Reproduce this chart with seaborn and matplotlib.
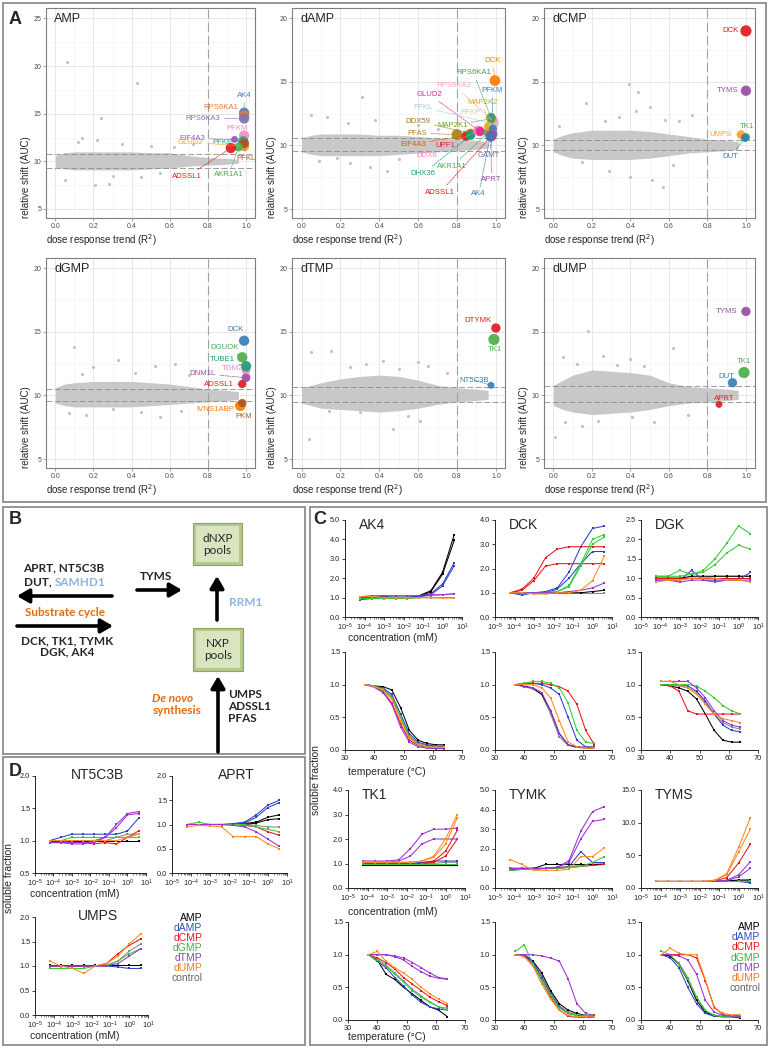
import numpy as np
import pandas as pd
import matplotlib
matplotlib.use("Agg")
import matplotlib.pyplot as plt
from matplotlib.patches import Rectangle
from matplotlib.ticker import LogLocator, LogFormatterMathtext, FormatStrFormatter, NullFormatter
import seaborn as sns

# ---------------- panel A: dose response screen (R2 vs AUC) ----------------
R2_TICKS = [0.0, 0.2, 0.4, 0.6, 0.8, 1.0]
R2_CLOUD = [0.0, 0.05, 0.1, 0.2, 0.3, 0.4, 0.5, 0.6, 0.7, 0.8, 0.9, 0.96]

AMP_CLOUD_HI = [10.6, 10.9, 11.0, 11.0, 11.0, 11.0, 10.9, 10.9, 10.6, 10.4, 10.3, 10.2]
AMP_CLOUD_LO = [9.4, 9.2, 9.1, 9.1, 9.1, 9.1, 9.2, 9.3, 9.5, 9.6, 9.7, 9.8]
AMP_OUT_R2 = [0.06, 0.43, 0.24, 0.14, 0.22, 0.12, 0.35, 0.5, 0.62, 0.28, 0.21, 0.05, 0.3, 0.55, 0.72, 0.45]
AMP_OUT_AUC = [20.4, 18.2, 14.5, 12.5, 12.2, 12.0, 11.8, 11.6, 11.5, 7.6, 7.5, 8.0, 8.5, 8.8, 11.8, 8.4]
AMP_GENES = ["AK4", "RPS6KA1", "RPS6KA3", "PFKM", "EIF4A3", "GLUD2", "PFKP", "PFKL", "AKR1A1", "ADSSL1"]
AMP_R2 = [0.99, 0.99, 0.99, 0.99, 0.94, 0.99, 0.985, 0.99, 0.96, 0.92]
AMP_AUC = [15.1, 14.8, 14.5, 12.7, 12.3, 11.6, 12.1, 11.9, 11.5, 11.4]
AMP_CUTOFFS = [10.8, 9.35]

DAMP_CLOUD_HI = [10.6, 10.8, 10.9, 10.9, 10.9, 10.8, 10.8, 10.7, 10.6, 10.5, 10.4, 10.3]
DAMP_CLOUD_LO = [9.5, 9.3, 9.2, 9.2, 9.2, 9.2, 9.3, 9.4, 9.5, 9.6, 9.7, 9.8]
DAMP_OUT_R2 = [0.31, 0.05, 0.13, 0.38, 0.24, 0.6, 0.44, 0.25, 0.35, 0.09, 0.18, 0.5, 0.7]
DAMP_OUT_AUC = [13.8, 12.4, 12.2, 12.0, 11.8, 11.6, 8.0, 8.6, 8.3, 8.8, 9.0, 8.9, 11.3]
DAMP_GENES = ["PFAS", "EIF4A3", "UPF1", "DDX59", "DHX36", "DDX6", "GLUD2", "AKR1A1", "MAP2K2",
              "PFKL", "PFKP", "RPS6KA3", "PFKM", "GAMT", "MAP2K1", "RPS6KA1", "ADSSL1", "APRT", "AK4", "DCK"]
DAMP_R2 = [0.80, 0.85, 0.845, 0.87, 0.87, 0.91, 0.92, 0.96, 0.965,
           0.99, 0.985, 0.99, 0.985, 0.985, 0.975, 0.975, 0.975, 0.975, 0.97, 0.995]
DAMP_AUC = [10.85, 10.8, 10.7, 10.95, 10.8, 11.15, 11.1, 11.0, 11.5,
            11.7, 12.0, 11.9, 11.3, 10.9, 12.1, 12.2, 10.7, 10.75, 10.65, 15.1]
DAMP_CUTOFFS = [10.6, 9.6]

DCMP_CLOUD_HI = [10.5, 10.8, 11.0, 11.2, 11.2, 11.2, 11.1, 10.9, 10.7, 10.5, 10.4, 10.3]
DCMP_CLOUD_LO = [9.5, 9.2, 9.0, 8.9, 8.9, 8.9, 9.0, 9.2, 9.4, 9.5, 9.6, 9.7]
DCMP_OUT_R2 = [0.39, 0.44, 0.17, 0.5, 0.43, 0.34, 0.27, 0.72, 0.65, 0.58, 0.4, 0.51, 0.57, 0.29, 0.15, 0.62, 0.03]
DCMP_OUT_AUC = [14.8, 14.2, 13.3, 13.0, 12.7, 12.2, 11.9, 12.4, 11.9, 12.0, 7.5, 7.3, 6.7, 8.0, 8.7, 8.5, 11.5]
DCMP_GENES = ["UMPS", "TK1", "DUT", "TYMS", "DCK"]
DCMP_R2 = [0.975, 1.0, 0.995, 1.0, 1.0]
DCMP_AUC = [10.85, 10.65, 10.6, 14.3, 19.0]
DCMP_CUTOFFS = [10.45, 9.65]

DGMP_CLOUD_HI = [10.6, 10.9, 11.0, 11.1, 11.1, 11.1, 11.0, 10.9, 10.7, 10.5, 10.4, 10.3]
DGMP_CLOUD_LO = [9.4, 9.2, 9.1, 9.1, 9.1, 9.1, 9.2, 9.3, 9.4, 9.5, 9.6, 9.7]
DGMP_OUT_R2 = [0.1, 0.33, 0.52, 0.2, 0.63, 0.14, 0.42, 0.7, 0.07, 0.16, 0.3, 0.55, 0.66, 0.45]
DGMP_OUT_AUC = [13.8, 12.8, 12.3, 12.2, 12.5, 11.7, 11.8, 11.6, 8.6, 8.5, 8.9, 8.3, 8.8, 8.7]
DGMP_GENES = ["IVNS1ABP", "PKM", "ADSSL1", "DNM1L", "TGM2", "TUBE1", "DGUOK", "DCK"]
DGMP_R2 = [0.97, 0.98, 0.98, 1.0, 1.0, 1.0, 0.98, 0.99]
DGMP_AUC = [9.2, 9.4, 10.9, 11.4, 12.0, 12.3, 13.0, 14.3]
DGMP_CUTOFFS = [10.5, 9.6]

DTMP_CLOUD_HI = [10.6, 10.8, 11.0, 11.3, 11.5, 11.6, 11.5, 11.2, 10.8, 10.6, 10.5, 10.4]
DTMP_CLOUD_LO = [9.4, 9.2, 9.0, 8.9, 8.8, 8.7, 8.8, 9.0, 9.3, 9.5, 9.6, 9.7]
DTMP_OUT_R2 = [0.05, 0.15, 0.42, 0.33, 0.6, 0.65, 0.25, 0.5, 0.47, 0.04, 0.3, 0.14, 0.61, 0.55, 0.75]
DTMP_OUT_AUC = [13.4, 13.5, 12.7, 12.5, 12.6, 12.3, 12.2, 12.1, 7.4, 6.6, 8.7, 8.8, 8.0, 8.4, 11.8]
DTMP_GENES = ["NT5C3B", "TK1", "DTYMK"]
DTMP_R2 = [0.975, 0.99, 1.0]
DTMP_AUC = [10.8, 14.4, 15.3]
DTMP_CUTOFFS = [10.65, 9.45]

DUMP_CLOUD_HI = [10.8, 11.2, 11.6, 12.0, 11.9, 11.8, 11.6, 11.0, 10.7, 10.6, 10.5, 10.4]
DUMP_CLOUD_LO = [9.2, 8.9, 8.7, 8.5, 8.6, 8.7, 8.9, 9.2, 9.4, 9.5, 9.6, 9.7]
DUMP_OUT_R2 = [0.18, 0.62, 0.26, 0.4, 0.05, 0.12, 0.33, 0.47, 0.01, 0.15, 0.06, 0.23, 0.52, 0.41, 0.7]
DUMP_OUT_AUC = [15.1, 13.7, 13.1, 12.9, 13.0, 12.5, 12.4, 12.3, 6.7, 7.6, 7.9, 8.0, 7.9, 8.3, 8.5]
DUMP_GENES = ["APRT", "DUT", "TK1", "TYMS"]
DUMP_R2 = [0.86, 0.93, 0.99, 1.0]
DUMP_AUC = [9.3, 11.0, 11.8, 16.6]
DUMP_CUTOFFS = [10.75, 9.45]

# gene styles: colour, marker size, label position (data coords)
AMP_STYLE = {
    "AK4": ("#4f7fb8", 55, 0.99, 16.9), "RPS6KA1": ("#e07b39", 55, 0.87, 15.7),
    "RPS6KA3": ("#7f73b5", 55, 0.775, 14.5), "PFKM": ("#f48cc4", 55, 0.955, 13.4),
    "EIF4A3": ("#9d55b0", 25, 0.72, 12.4), "GLUD2": ("#f5a020", 55, 0.71, 12.0),
    "PFKP": ("#2aa58c", 55, 0.875, 12.0), "PFKL": ("#a5552a", 50, 1.0, 10.3),
    "AKR1A1": ("#4daf4a", 40, 0.91, 8.6), "ADSSL1": ("#e41a1c", 55, 0.69, 8.4),
}
DAMP_STYLE = {
    "DCK": ("#ff7f00", 60, 0.985, 16.65), "RPS6KA1": ("#4d9e58", 45, 0.884, 15.7),
    "RPS6KA3": ("#f4a6b8", 45, 0.784, 14.7), "PFKM": ("#377eb8", 35, 0.98, 14.3),
    "GLUD2": ("#e7298a", 45, 0.658, 14.0), "MAP2K2": ("#e6ab02", 50, 0.933, 13.4),
    "PFKL": ("#a6cee3", 45, 0.626, 13.0), "PFKP": ("#b2df8a", 45, 0.87, 12.6),
    "DDX59": ("#a6761d", 45, 0.60, 11.9), "MAP2K1": ("#66a61e", 45, 0.775, 11.55),
    "PFAS": ("#a88412", 60, 0.596, 10.97), "EIF4A3": ("#d95f02", 45, 0.574, 10.1),
    "UPF1": ("#e41a1c", 40, 0.74, 9.97), "DDX6": ("#f781bf", 55, 0.644, 9.24),
    "AKR1A1": ("#4daf4a", 40, 0.775, 8.35), "DHX36": ("#1b9e77", 45, 0.626, 7.8),
    "ADSSL1": ("#e41a1c", 50, 0.714, 6.33), "GAMT": ("#7570b3", 45, 0.965, 9.2),
    "APRT": ("#984ea3", 60, 0.977, 7.3), "AK4": ("#377eb8", 40, 0.912, 6.2),
}
DCMP_STYLE = {
    "DCK": ("#e41a1c", 65, 0.92, 19.0), "TYMS": ("#984ea3", 55, 0.905, 14.3),
    "UMPS": ("#ff9f33", 40, 0.87, 10.9), "TK1": ("#4daf4a", 35, 1.005, 11.5),
    "DUT": ("#377eb8", 35, 0.92, 9.14),
}
DGMP_STYLE = {
    "DCK": ("#377eb8", 55, 0.944, 15.16), "DGUOK": ("#4daf4a", 55, 0.888, 13.8),
    "TUBE1": ("#1b9e77", 55, 0.878, 12.8), "TGM2": ("#f781bf", 40, 0.93, 12.1),
    "DNM1L": ("#984ea3", 40, 0.774, 11.7), "ADSSL1": ("#e41a1c", 35, 0.857, 10.84),
    "IVNS1ABP": ("#ff7f00", 60, 0.836, 8.93), "PKM": ("#a65628", 35, 0.988, 8.35),
}
DTMP_STYLE = {
    "DTYMK": ("#e41a1c", 45, 0.908, 15.86), "TK1": ("#4daf4a", 65, 0.995, 13.6),
    "NT5C3B": ("#377eb8", 25, 0.89, 11.2),
}
DUMP_STYLE = {
    "TYMS": ("#984ea3", 45, 0.9, 16.6), "TK1": ("#4daf4a", 65, 0.99, 12.7),
    "DUT": ("#377eb8", 45, 0.9, 11.5), "APRT": ("#e41a1c", 25, 0.887, 9.75),
}

# ---------------- panels C/D: ITDR and melting curves ----------------
CONC_MM = [6.1e-5, 2.44e-4, 9.77e-4, 3.91e-3, 1.56e-2, 6.25e-2, 0.25, 1.0, 4.0]
TEMP_C = [37, 40, 43, 46, 49, 52, 55, 58, 61, 64]
LIGANDS = ["control", "AMP", "dAMP", "dCMP", "dGMP", "dTMP", "dUMP"]

AK4_CONC = {
    "control": [[1.0, 1.0, 1.0, 1.05, 1.05, 1.05, 1.1, 1.15, 1.2]],
    "AMP": [[0.95, 1.0, 1.05, 1.0, 0.95, 1.1, 1.35, 2.3, 4.25], [1.0, 1.0, 1.0, 1.0, 1.0, 1.05, 1.3, 2.2, 3.95]],
    "dAMP": [[0.9, 1.0, 1.0, 1.0, 1.0, 1.05, 1.2, 1.7, 2.8], [0.9, 0.95, 1.0, 1.0, 1.0, 1.05, 1.15, 1.6, 2.65]],
    "dCMP": [[1.0, 1.0, 1.0, 1.0, 0.98, 1.0, 1.0, 1.0, 1.0]],
    "dGMP": [[0.95, 0.95, 0.95, 0.95, 0.95, 1.0, 1.0, 1.0, 1.0]],
    "dTMP": [[1.05, 1.1, 1.1, 1.1, 1.1, 1.1, 1.15, 1.15, 1.2]],
    "dUMP": [[1.05, 1.05, 1.0, 1.0, 1.0, 1.0, 1.0, 0.98, 0.98]],
}
DCK_CONC = {
    "control": [[1.0, 1.0, 1.0, 1.0, 1.0, 1.0, 1.0, 1.0, 1.0]],
    "AMP": [[1.0, 1.0, 1.0, 1.0, 1.0, 1.0, 1.0, 1.05, 1.1]],
    "dAMP": [[1.0, 1.0, 1.0, 1.05, 1.2, 1.85, 2.9, 3.65, 3.75], [1.0, 0.9, 1.0, 1.0, 1.15, 1.6, 2.2, 2.7, 2.7]],
    "dCMP": [[1.0, 1.15, 1.6, 2.45, 2.8, 2.9, 2.9, 2.9, 2.9], [1.0, 1.1, 1.5, 2.1, 2.2, 2.2, 2.2, 2.2, 2.2]],
    "dGMP": [[1.0, 1.0, 1.0, 1.0, 1.05, 1.3, 2.2, 3.2, 3.4], [1.0, 1.0, 1.0, 1.0, 1.05, 1.25, 2.1, 3.0, 3.3]],
    "dTMP": [[1.0, 1.0, 1.0, 1.0, 1.0, 1.05, 1.1, 1.2, 1.4]],
    "dUMP": [[1.0, 1.0, 0.95, 0.95, 1.0, 1.0, 1.1, 1.5, 2.5]],
}
DGK_CONC = {
    "control": [[1.0, 1.0, 1.0, 1.0, 1.0, 1.05, 1.05, 1.05, 1.05]],
    "AMP": [[1.0, 1.0, 1.0, 1.05, 1.05, 1.05, 1.05, 1.05, 1.05]],
    "dAMP": [[0.95, 0.95, 0.95, 1.2, 0.95, 0.95, 0.95, 0.95, 1.15]],
    "dCMP": [[1.0, 1.0, 1.0, 1.0, 1.0, 1.0, 1.0, 1.0, 1.0]],
    "dGMP": [[1.05, 1.05, 1.2, 1.1, 1.2, 1.5, 1.9, 2.35, 2.15], [1.05, 1.05, 1.05, 1.1, 1.15, 1.35, 1.65, 1.85, 1.75]],
    "dTMP": [[0.95, 0.95, 0.9, 0.95, 0.95, 0.9, 0.95, 0.95, 0.95]],
    "dUMP": [[0.9, 0.95, 0.95, 1.0, 1.0, 1.0, 0.95, 0.95, 0.9]],
}
TK1_CONC = {
    "control": [[1.0, 1.0, 1.0, 1.0, 1.0, 1.0, 1.0, 1.05, 1.05]],
    "AMP": [[0.95, 0.95, 0.95, 0.95, 0.95, 0.95, 0.95, 0.95, 0.95]],
    "dAMP": [[1.0, 1.0, 1.0, 1.0, 1.0, 1.05, 1.1, 1.1, 1.1]],
    "dCMP": [[1.0, 1.0, 1.0, 1.0, 1.0, 1.0, 1.1, 1.5, 2.35], [1.0, 1.0, 1.0, 1.0, 1.0, 1.0, 1.05, 1.3, 2.0]],
    "dGMP": [[1.0, 1.0, 1.0, 1.0, 1.0, 1.0, 1.0, 1.0, 1.0]],
    "dTMP": [[1.1, 1.1, 1.1, 1.15, 1.6, 2.2, 2.4, 2.4, 2.45], [1.05, 1.05, 1.05, 1.1, 1.3, 1.8, 2.0, 2.0, 2.0]],
    "dUMP": [[1.05, 1.05, 1.05, 1.05, 1.05, 1.1, 1.3, 2.0, 3.0], [1.05, 1.05, 1.05, 1.05, 1.05, 1.1, 1.25, 1.8, 2.85]],
}
TYMK_CONC = {
    "control": [[1.0, 1.0, 1.0, 1.0, 1.05, 1.1, 1.15, 1.2, 1.25]],
    "AMP": [[0.95, 1.0, 1.0, 1.2, 1.2, 1.2, 1.2, 1.2, 1.2]],
    "dAMP": [[0.9, 0.95, 0.95, 1.0, 1.0, 1.1, 1.85, 1.3, 1.3]],
    "dCMP": [[1.0, 1.0, 1.0, 1.0, 1.0, 1.05, 1.1, 1.15, 1.2]],
    "dGMP": [[0.9, 0.95, 0.95, 1.0, 1.0, 1.05, 1.1, 1.3, 1.6]],
    "dTMP": [[1.0, 1.0, 1.0, 1.0, 1.05, 1.4, 2.9, 3.9, 4.15], [1.0, 1.0, 1.0, 1.0, 1.05, 1.3, 2.5, 3.4, 3.5]],
    "dUMP": [[1.45, 1.2, 0.9, 0.9, 0.9, 0.95, 1.6, 1.6, 2.05]],
}
TYMS_CONC = {
    "control": [[1.0, 1.0, 1.0, 1.0, 1.0, 1.0, 1.1, 1.2, 1.3]],
    "AMP": [[1.0, 1.0, 1.0, 1.0, 1.0, 1.0, 1.1, 1.2, 1.2]],
    "dAMP": [[1.0, 1.0, 1.0, 1.0, 1.0, 1.0, 1.0, 1.0, 0.8]],
    "dCMP": [[1.0, 1.0, 1.0, 1.0, 1.0, 1.1, 1.6, 3.8, 6.7]],
    "dGMP": [[1.0, 1.0, 1.0, 1.0, 1.0, 1.0, 1.0, 1.0, 1.0]],
    "dTMP": [[1.0, 1.0, 1.0, 1.0, 1.0, 1.0, 1.2, 2.0, 4.0], [1.0, 1.0, 1.0, 1.0, 1.0, 1.0, 1.1, 1.7, 3.0]],
    "dUMP": [[1.0, 1.0, 1.0, 1.0, 1.0, 1.2, 2.2, 6.2, 10.7], [1.0, 1.0, 1.0, 1.0, 1.0, 1.2, 2.0, 5.5, 9.0]],
}

AK4_MELT = {
    "control": [[1.0, 0.98, 0.95, 0.82, 0.5, 0.22, 0.1, 0.07, 0.05, 0.05]],
    "AMP": [[1.0, 0.98, 0.97, 0.92, 0.65, 0.3, 0.15, 0.1, 0.08, 0.08]],
    "dAMP": [[1.0, 0.98, 0.95, 0.85, 0.55, 0.25, 0.12, 0.08, 0.06, 0.06]],
    "dCMP": [[1.0, 0.97, 0.9, 0.72, 0.4, 0.15, 0.07, 0.04, 0.03, 0.03]],
    "dGMP": [[1.0, 0.98, 0.93, 0.8, 0.5, 0.2, 0.08, 0.05, 0.04, 0.04]],
    "dTMP": [[1.0, 0.96, 0.88, 0.7, 0.35, 0.12, 0.05, 0.03, 0.02, 0.02]],
    "dUMP": [[1.0, 0.97, 0.92, 0.78, 0.45, 0.18, 0.08, 0.05, 0.04, 0.04]],
}
DCK_MELT = {
    "control": [[1.0, 0.97, 0.93, 0.85, 0.55, 0.2, 0.07, 0.05, 0.05, 0.05]],
    "AMP": [[1.0, 0.98, 0.95, 0.85, 0.6, 0.25, 0.08, 0.04, 0.03, 0.03]],
    "dAMP": [[1.0, 1.02, 1.02, 1.0, 0.95, 0.85, 0.5, 0.15, 0.05, 0.04]],
    "dCMP": [[1.0, 1.02, 1.02, 1.02, 1.0, 0.97, 0.9, 0.7, 0.3, 0.08]],
    "dGMP": [[1.0, 1.02, 1.05, 1.05, 1.02, 0.95, 0.72, 0.3, 0.12, 0.1]],
    "dTMP": [[1.0, 0.97, 0.95, 0.88, 0.6, 0.25, 0.08, 0.05, 0.04, 0.04]],
    "dUMP": [[1.0, 1.0, 1.0, 0.95, 0.8, 0.45, 0.12, 0.05, 0.03, 0.03]],
}
DGK_MELT = {
    "control": [[1.0, 1.0, 0.98, 0.95, 0.88, 0.72, 0.55, 0.42, 0.35, 0.32]],
    "AMP": [[1.0, 0.98, 0.95, 0.9, 0.78, 0.55, 0.3, 0.15, 0.12, 0.12]],
    "dAMP": [[1.0, 1.0, 1.0, 0.98, 0.9, 0.75, 0.55, 0.38, 0.3, 0.28]],
    "dCMP": [[1.0, 0.98, 0.9, 0.6, 0.55, 0.55, 0.55, 0.55, 0.55, 0.55]],
    "dGMP": [[1.0, 1.0, 1.0, 1.0, 0.98, 0.9, 0.8, 0.68, 0.6, 0.55]],
    "dTMP": [[1.05, 1.05, 1.05, 1.05, 0.95, 0.8, 0.6, 0.45, 0.38, 0.35]],
    "dUMP": [[1.05, 1.05, 1.0, 0.95, 0.85, 0.7, 0.55, 0.48, 0.45, 0.42]],
}
TK1_MELT = {
    "control": [[1.0, 0.93, 0.84, 0.72, 0.6, 0.47, 0.37, 0.28, 0.2, 0.18]],
    "AMP": [[1.0, 0.92, 0.7, 0.62, 0.5, 0.4, 0.3, 0.2, 0.15, 0.05]],
    "dAMP": [[1.0, 0.9, 0.8, 0.65, 0.52, 0.38, 0.27, 0.2, 0.17, 0.15]],
    "dCMP": [[1.0, 0.95, 0.88, 0.78, 0.65, 0.55, 0.45, 0.35, 0.28, 0.22]],
    "dGMP": [[1.0, 0.92, 0.82, 0.7, 0.58, 0.45, 0.35, 0.27, 0.2, 0.15]],
    "dTMP": [[1.0, 1.0, 1.0, 0.98, 0.95, 0.88, 0.8, 0.72, 0.65, 0.63], [1.0, 1.0, 1.0, 0.97, 0.92, 0.82, 0.74, 0.67, 0.64, 0.62]],
    "dUMP": [[1.0, 1.05, 0.9, 0.8, 0.72, 0.62, 0.5, 0.4, 0.32, 0.25]],
}
TYMK_MELT = {
    "control": [[1.0, 0.98, 0.88, 0.68, 0.43, 0.22, 0.12, 0.08, 0.07, 0.07]],
    "AMP": [[1.0, 1.0, 0.9, 0.72, 0.45, 0.25, 0.15, 0.1, 0.07, 0.06]],
    "dAMP": [[1.0, 1.0, 0.88, 0.65, 0.4, 0.2, 0.1, 0.07, 0.06, 0.06]],
    "dCMP": [[1.0, 0.98, 0.85, 0.6, 0.35, 0.15, 0.06, 0.04, 0.04, 0.04]],
    "dGMP": [[1.05, 1.15, 0.85, 0.6, 0.38, 0.18, 0.1, 0.08, 0.07, 0.07]],
    "dTMP": [[1.0, 1.0, 1.0, 0.98, 0.95, 0.9, 0.63, 0.25, 0.1, 0.07]],
    "dUMP": [[1.0, 0.97, 0.82, 0.55, 0.32, 0.15, 0.07, 0.05, 0.05, 0.05]],
}
TYMS_MELT = {
    "control": [[1.0, 0.98, 0.87, 0.65, 0.35, 0.14, 0.07, 0.06, 0.05, 0.05]],
    "AMP": [[1.0, 0.98, 0.85, 0.6, 0.3, 0.12, 0.06, 0.05, 0.05, 0.03]],
    "dAMP": [[1.0, 0.95, 0.8, 0.5, 0.25, 0.1, 0.06, 0.05, 0.05, 0.05]],
    "dCMP": [[1.0, 1.0, 1.0, 1.0, 0.95, 0.6, 0.2, 0.08, 0.07, 0.07]],
    "dGMP": [[1.05, 1.0, 0.85, 0.62, 0.35, 0.15, 0.07, 0.05, 0.05, 0.05]],
    "dTMP": [[1.0, 1.0, 0.98, 0.92, 0.7, 0.3, 0.12, 0.07, 0.06, 0.06]],
    "dUMP": [[1.0, 1.1, 1.02, 1.0, 1.0, 0.62, 0.18, 0.1, 0.08, 0.08]],
}

NT5C3B_CONC = {
    "control": [[1.0, 1.0, 1.0, 1.0, 1.0, 1.0, 1.05, 1.1, 1.1]],
    "AMP": [[1.0, 1.0, 1.0, 1.0, 1.0, 1.0, 1.0, 1.0, 1.0]],
    "dAMP": [[1.0, 1.05, 1.1, 1.1, 1.1, 1.1, 1.1, 1.15, 1.35]],
    "dCMP": [[1.0, 1.0, 0.97, 0.97, 0.95, 0.97, 0.95, 1.05, 1.15]],
    "dGMP": [[1.0, 1.0, 1.05, 1.05, 1.05, 1.05, 1.05, 1.05, 1.05]],
    "dTMP": [[0.97, 0.97, 0.95, 0.95, 1.0, 1.05, 1.25, 1.42, 1.45], [0.97, 0.97, 0.97, 0.97, 0.97, 1.05, 1.2, 1.4, 1.42]],
    "dUMP": [[1.0, 1.0, 1.0, 1.0, 1.0, 1.0, 1.0, 1.05, 1.1]],
}
APRT_CONC = {
    "control": [[1.0, 1.0, 1.0, 1.0, 1.0, 1.0, 0.98, 0.95, 0.95]],
    "AMP": [[1.0, 1.0, 1.0, 1.0, 1.0, 1.02, 1.05, 1.15, 1.2], [1.0, 1.0, 1.0, 1.0, 1.0, 1.0, 1.03, 1.1, 1.12]],
    "dAMP": [[1.0, 1.0, 1.0, 1.0, 1.02, 1.05, 1.2, 1.4, 1.5], [1.0, 1.0, 1.0, 1.0, 1.0, 1.03, 1.15, 1.35, 1.45]],
    "dCMP": [[1.0, 1.0, 1.0, 1.0, 1.0, 0.98, 0.95, 0.85, 0.78]],
    "dGMP": [[1.0, 1.05, 1.0, 1.0, 1.0, 1.0, 0.95, 0.9, 0.85]],
    "dTMP": [[1.0, 1.0, 1.0, 1.0, 0.98, 0.95, 0.85, 0.7, 0.55]],
    "dUMP": [[0.95, 0.98, 0.97, 0.95, 0.75, 0.75, 0.75, 0.6, 0.5]],
}
UMPS_CONC = {
    "control": [[1.0, 1.0, 1.0, 1.0, 1.0, 1.02, 1.1, 1.3, 1.45]],
    "AMP": [[1.02, 1.02, 1.02, 1.02, 1.02, 1.02, 1.02, 1.02, 1.02]],
    "dAMP": [[1.0, 1.0, 1.0, 1.0, 1.0, 1.0, 0.98, 0.95, 0.95]],
    "dCMP": [[1.0, 1.0, 1.0, 1.0, 1.0, 1.05, 1.25, 1.42, 1.55]],
    "dGMP": [[0.95, 0.95, 0.95, 0.95, 1.0, 1.0, 1.1, 1.25, 1.35]],
    "dTMP": [[1.0, 1.0, 1.0, 1.0, 1.0, 1.0, 1.05, 1.2, 1.35]],
    "dUMP": [[1.1, 1.0, 0.95, 0.85, 1.0, 1.05, 1.2, 1.45, 1.65]],
}

LIG_COLORS = {"control": "#8a8a8a", "AMP": "#000000", "dAMP": "#2e3fc8", "dCMP": "#e8161b",
              "dGMP": "#33cc33", "dTMP": "#9b30d9", "dUMP": "#ff8a1f"}
LEGEND_COLORS = {"AMP": "#000000", "dAMP": "#3050c0", "dCMP": "#e8161b", "dGMP": "#40b040",
                 "dTMP": "#9040c0", "dUMP": "#f08020", "control": "#666666"}

# ---------------- figure ----------------
sns.set_theme(style="ticks")
plt.rcParams["font.family"] = ["Liberation Sans", "DejaVu Sans"]

W, H = 770, 1050
fig = plt.figure(figsize=(7.7, 10.5), dpi=100)


def px_axes(x0, y0, x1, y1):
    return fig.add_axes([x0 / W, 1 - y1 / H, (x1 - x0) / W, (y1 - y0) / H])


def draw_screen(box, title, ylim, yticks, yminor, hi, lo, out_x, out_y, genes, r2, auc, style, cutoffs):
    ax = px_axes(*box)
    ax.set_facecolor("white")
    ax.set_xlim(-0.049, 1.047)
    ax.set_ylim(*ylim)
    ax.set_xticks(R2_TICKS)
    ax.set_xticks([0.1, 0.3, 0.5, 0.7, 0.9], minor=True)
    ax.set_yticks(yticks)
    ax.set_yticks(yminor, minor=True)
    ax.xaxis.set_major_formatter(FormatStrFormatter("%.1f"))
    ax.grid(which="major", color="#e3e3e3", lw=0.6)
    ax.grid(which="minor", color="#f0f0f0", lw=0.4)
    ax.set_axisbelow(True)
    for s in ax.spines.values():
        s.set_color("#7f7f7f")
        s.set_linewidth(0.8)
    ax.tick_params(which="major", length=2, width=0.5, color="#7f7f7f",
                   labelsize=5, labelcolor="#4d4d4d", pad=1.5)
    ax.tick_params(which="minor", length=0)

    ax.fill_between(R2_CLOUD, lo, hi, color="#c8c8c8", lw=0, zorder=1)
    sns.scatterplot(x=out_x, y=out_y, color="#c2c2c2", s=5, linewidth=0, ax=ax, zorder=2)
    for yc in cutoffs:
        ax.axhline(yc, color="#8c8c8c", lw=0.6, ls=(0, (7, 3)), zorder=3)
    ax.axvline(0.8, color="#a0a0a0", lw=0.8, ls=(0, (8, 4)), zorder=3)

    hits = pd.DataFrame({"gene": genes, "r2": r2, "auc": auc})
    sns.scatterplot(data=hits, x="r2", y="auc", hue="gene", size="gene",
                    palette={g: style[g][0] for g in genes},
                    sizes={g: style[g][1] for g in genes},
                    linewidth=0, alpha=0.92, legend=False, ax=ax, zorder=4)
    for g, x, y in zip(genes, r2, auc):
        col, _, lx, ly = style[g]
        far = abs(lx - x) > 0.07 or abs(ly - y) > 1.1
        arrow = dict(arrowstyle="-", color=col, lw=0.5, ls=(0, (2, 1.5)),
                     shrinkA=0.5, shrinkB=2) if far else None
        ax.annotate(g, xy=(x, y), xytext=(lx, ly), ha="center", va="center",
                    fontsize=5.6, color=col, arrowprops=arrow,
                    annotation_clip=False, zorder=5)
    ax.text(0.04, 0.975, title, transform=ax.transAxes, ha="left", va="top", fontsize=9)
    ax.set_xlabel("dose response trend (R$^2$)", fontsize=7, labelpad=1.5, loc="left")
    ax.set_ylabel("relative shift (AUC)", fontsize=7, labelpad=1.5, loc="bottom")
    return ax


draw_screen((46, 8, 255, 218), "AMP", (4.05, 26.1), [5, 10, 15, 20, 25], [7.5, 12.5, 17.5, 22.5],
            AMP_CLOUD_HI, AMP_CLOUD_LO, AMP_OUT_R2, AMP_OUT_AUC,
            AMP_GENES, AMP_R2, AMP_AUC, AMP_STYLE, AMP_CUTOFFS)
draw_screen((292, 8, 505, 218), "dAMP", (4.3, 20.8), [5, 10, 15, 20], [7.5, 12.5, 17.5],
            DAMP_CLOUD_HI, DAMP_CLOUD_LO, DAMP_OUT_R2, DAMP_OUT_AUC,
            DAMP_GENES, DAMP_R2, DAMP_AUC, DAMP_STYLE, DAMP_CUTOFFS)
draw_screen((544, 8, 755, 218), "dCMP", (4.3, 20.8), [5, 10, 15, 20], [7.5, 12.5, 17.5],
            DCMP_CLOUD_HI, DCMP_CLOUD_LO, DCMP_OUT_R2, DCMP_OUT_AUC,
            DCMP_GENES, DCMP_R2, DCMP_AUC, DCMP_STYLE, DCMP_CUTOFFS)
draw_screen((46, 258, 255, 468), "dGMP", (4.3, 20.8), [5, 10, 15, 20], [7.5, 12.5, 17.5],
            DGMP_CLOUD_HI, DGMP_CLOUD_LO, DGMP_OUT_R2, DGMP_OUT_AUC,
            DGMP_GENES, DGMP_R2, DGMP_AUC, DGMP_STYLE, DGMP_CUTOFFS)
draw_screen((292, 258, 505, 468), "dTMP", (4.3, 20.8), [5, 10, 15, 20], [7.5, 12.5, 17.5],
            DTMP_CLOUD_HI, DTMP_CLOUD_LO, DTMP_OUT_R2, DTMP_OUT_AUC,
            DTMP_GENES, DTMP_R2, DTMP_AUC, DTMP_STYLE, DTMP_CUTOFFS)
draw_screen((544, 258, 755, 468), "dUMP", (4.3, 20.8), [5, 10, 15, 20], [7.5, 12.5, 17.5],
            DUMP_CLOUD_HI, DUMP_CLOUD_LO, DUMP_OUT_R2, DUMP_OUT_AUC,
            DUMP_GENES, DUMP_R2, DUMP_AUC, DUMP_STYLE, DUMP_CUTOFFS)


def curves_df(series, xs):
    rows = []
    for lig, reps in series.items():
        for i, vals in enumerate(reps):
            for x, v in zip(xs, vals):
                rows.append((lig, f"{lig}{i}", x, v))
    return pd.DataFrame(rows, columns=["ligand", "rep", "x", "y"])


def draw_prism(box, series, kind, ylo, yhi, ystep, title=None, title_xy=(0.12, 1.02), title_ha="left"):
    ax = px_axes(*box)
    ax.set_facecolor("none")
    if kind == "conc":
        xs = CONC_MM
        ax.set_xscale("log")
        ax.set_xlim(1e-5, 10)
        ax.xaxis.set_major_locator(LogLocator(base=10, numticks=12))
        ax.xaxis.set_minor_locator(LogLocator(base=10, subs=np.arange(2, 10), numticks=12))
        ax.xaxis.set_major_formatter(LogFormatterMathtext())
        ax.xaxis.set_minor_formatter(NullFormatter())
    else:
        xs = TEMP_C
        ax.set_xlim(30, 70)
        ax.set_xticks([30, 40, 50, 60, 70])
    df = curves_df(series, xs)
    sns.lineplot(data=df, x="x", y="y", hue="ligand", units="rep", estimator=None,
                 hue_order=LIGANDS, palette=LIG_COLORS, lw=0.75, marker="s",
                 markersize=1.7, markeredgewidth=0, legend=False, ax=ax)
    ax.set_ylim(ylo, yhi)
    ax.set_yticks(np.arange(ylo, yhi + 1e-9, ystep))
    ax.yaxis.set_major_formatter(FormatStrFormatter("%.1f"))
    ax.set_xlabel("")
    ax.set_ylabel("")
    for side in ["top", "right"]:
        ax.spines[side].set_visible(False)
    for side in ["left", "bottom"]:
        ax.spines[side].set_color("#222222")
        ax.spines[side].set_linewidth(0.7)
    ax.tick_params(which="major", direction="out", length=2.5, width=0.6,
                   labelsize=5.3, pad=1, colors="#222222")
    ax.tick_params(which="minor", direction="out", length=1.4, width=0.4, colors="#222222")
    if title:
        ax.text(title_xy[0], title_xy[1], title, transform=ax.transAxes, ha=title_ha,
                va="top", fontsize=10, clip_on=False)
    return ax


# panel C
draw_prism((345, 520, 462, 617), AK4_CONC, "conc", 0, 5, 1, "AK4")
draw_prism((495, 520, 612, 617), DCK_CONC, "conc", 0, 4, 1, "DCK")
draw_prism((641, 520, 758, 617), DGK_CONC, "conc", 0, 2.5, 0.5, "DGK")
draw_prism((345, 652, 462, 750), AK4_MELT, "temp", 0, 1.5, 0.5)
draw_prism((495, 652, 612, 750), DCK_MELT, "temp", 0, 1.5, 0.5)
draw_prism((641, 652, 758, 750), DGK_MELT, "temp", 0, 1.5, 0.5)
draw_prism((348, 790, 465, 888), TK1_CONC, "conc", 0, 4, 1, "TK1")
draw_prism((495, 790, 612, 888), TYMK_CONC, "conc", 0, 5, 1, "TYMK")
draw_prism((641, 790, 758, 888), TYMS_CONC, "conc", 0, 15, 5, "TYMS")
draw_prism((348, 922, 465, 1020), TK1_MELT, "temp", 0, 1.5, 0.5)
draw_prism((495, 922, 612, 1020), TYMK_MELT, "temp", 0, 1.5, 0.5)
draw_prism((641, 922, 758, 1020), TYMS_MELT, "temp", 0, 1.5, 0.5)

# panel D
draw_prism((35, 776, 146, 873), NT5C3B_CONC, "conc", 0.5, 2.0, 0.5, "NT5C3B", (0.56, 1.08), "center")
draw_prism((172, 776, 287, 873), APRT_CONC, "conc", 0.0, 2.0, 0.5, "APRT", (0.56, 1.08), "center")
draw_prism((35, 917, 148, 1015), UMPS_CONC, "conc", 0.0, 2.0, 0.5, "UMPS", (0.56, 1.08), "center")

# ---------------- overlay: frames, panel letters, panel B diagram ----------------
ov = fig.add_axes([0, 0, 1, 1], zorder=10)
ov.set_xlim(0, W)
ov.set_ylim(H, 0)
ov.axis("off")
ov.patch.set_alpha(0)

for (x0, y0, w, h) in [(3, 3, 763, 499), (3, 507, 302, 247), (3, 757, 302, 288), (310, 507, 457, 538)]:
    ov.add_patch(Rectangle((x0, y0), w, h, fill=False, ec="#8c8c8c", lw=1.3))

for letter, (lx, ly) in {"A": (9, 19), "B": (9, 519), "C": (313, 519), "D": (9, 772)}.items():
    ov.text(lx, ly, letter, fontsize=13, fontweight="bold", ha="left", va="center")

# panel C/D axis titles and legends
for yy in (638, 912):
    ov.text(348, yy, "concentration (mM)", fontsize=7.5, ha="left", va="center")
for yy in (772, 1037):
    ov.text(348, yy, "temperature (\u00b0C)", fontsize=7.5, ha="left", va="center")
ov.text(316, 780, "soluble fraction", fontsize=7.5, rotation=90, ha="center", va="center")
ov.text(30, 894, "concentration (mM)", fontsize=7.5, ha="left", va="center")
ov.text(30, 1036, "concentration (mM)", fontsize=7.5, ha="left", va="center")
ov.text(9, 878, "soluble fraction", fontsize=7.5, rotation=90, ha="center", va="center")

for i, lig in enumerate(LEGEND_COLORS):
    ov.text(760, 927 + i * 10.2, lig, color=LEGEND_COLORS[lig], fontsize=7.5, ha="right", va="center")
    ov.text(202, 918 + i * 10.0, lig, color=LEGEND_COLORS[lig], fontsize=7.5, ha="right", va="center")

# panel B diagram
ORANGE = "#e36c09"
LIGHTBLUE = "#8db3e2"
bfont = dict(family=["Lato", "DejaVu Sans"], fontsize=8.5, fontweight="bold", va="center")
ov.text(64, 568, "APRT, NT5C3B", ha="center", **bfont)
ov.text(52, 582, "DUT,", ha="right", **bfont)
ov.text(55, 582, "SAMHD1", ha="left", color=LIGHTBLUE, **bfont)
ov.text(65, 612, "Substrate cycle", ha="center", color=ORANGE, **bfont)
ov.text(67, 641, "DCK, TK1, TYMK", ha="center", **bfont)
ov.text(67, 652, "DGK, AK4", ha="center", **bfont)
ov.text(156, 577, "TYMS", ha="center", **bfont)
ov.text(246, 602, "RRM1", ha="center", color=LIGHTBLUE, **bfont)
ov.text(173, 699, "De novo", ha="center", color=ORANGE, style="italic", **bfont)
ov.text(177, 711, "synthesis", ha="center", color=ORANGE, **bfont)
for yy, txt in zip((694, 706, 718), ("UMPS", "ADSSL1", "PFAS")):
    ov.text(228, yy, txt, ha="left", **bfont)

for (x0, y0, x1, y1) in [(112, 596, 17, 596), (17, 626, 113, 626), (137, 590, 182, 590),
                         (217, 620, 217, 576), (218, 752, 218, 676)]:
    ov.annotate("", xy=(x1, y1), xytext=(x0, y0),
                arrowprops=dict(arrowstyle="-|>,head_length=0.6,head_width=0.35",
                                lw=2.6, color="black", shrinkA=0, shrinkB=0, mutation_scale=12))

for (bx, by, bw, bh, t1, t2) in [(193, 523, 49, 42, "dNXP", "pools"), (193, 628, 50, 43, "NXP", "pools")]:
    ov.add_patch(Rectangle((bx, by), bw, bh, fc="#b7c98a", ec="#8fa363", lw=0.8))
    ov.add_patch(Rectangle((bx + 3, by + 3), bw - 6, bh - 6, fc="#d8e5c0", ec="none"))
    ov.text(bx + bw / 2, by + bh / 2 - 6, t1, ha="center", va="center", fontsize=8.5,
            family=["Lato", "DejaVu Sans"])
    ov.text(bx + bw / 2, by + bh / 2 + 6, t2, ha="center", va="center", fontsize=8.5,
            family=["Lato", "DejaVu Sans"])

fig.savefig("out.png", dpi=100)
